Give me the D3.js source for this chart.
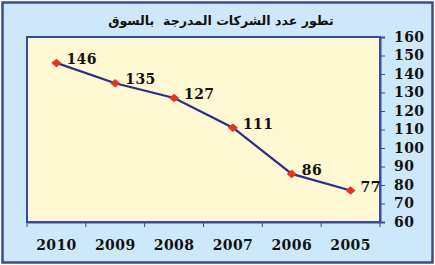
<!DOCTYPE html>
<html>
<head>
<meta charset="utf-8">
<script src="https://cdn.jsdelivr.net/npm/d3@7"></script>
<style>
  html, body { margin: 0; padding: 0; background: #ffffff; }
</style>
</head>
<body>
<div id="chart"></div>
<script>
// Data
const years = ["2010", "2009", "2008", "2007", "2006", "2005"];
const companies = [146, 135, 127, 111, 86, 77];
const yTicks = [60, 70, 80, 90, 100, 110, 120, 130, 140, 150, 160];
const title = "تطور عدد الشركات المدرجة  بالسوق";

const W = 435, H = 265;
const margin = { top: 37, right: 55, bottom: 43, left: 27 };
const width = W - margin.left - margin.right;
const height = H - margin.top - margin.bottom;

const svg = d3.select("#chart").append("svg")
    .attr("width", W)
    .attr("height", H);

// outer frame
svg.append("rect")
    .attr("x", 2.5).attr("y", 2.5)
    .attr("width", W - 5).attr("height", H - 5)
    .attr("fill", "#cde8f8")
    .attr("stroke", "#3a4a9e")
    .attr("stroke-width", 2.5);

svg.append("text")
    .attr("x", 221)
    .attr("y", 25)
    .attr("text-anchor", "middle")
    .attr("direction", "rtl")
    .style("white-space", "pre")
    .style("font-family", "'DejaVu Sans', sans-serif")
    .style("font-weight", "bold")
    .style("font-size", "12.6px")
    .style("fill", "#111")
    .text(title);

const g = svg.append("g")
    .attr("transform", `translate(${margin.left},${margin.top})`);

const x = d3.scaleBand().domain(years).range([0, width]);
const y = d3.scaleLinear().domain([60, 160]).range([height, 0]);

// plot background
g.append("rect")
    .attr("width", width).attr("height", height)
    .attr("fill", "#fff8d2")
    .attr("stroke", "#3a4a9e")
    .attr("stroke-width", 2);

const fontStyle = sel => sel
    .style("font-family", "'DejaVu Serif', serif")
    .style("font-weight", "bold")
    .style("font-size", "14px")
    .style("letter-spacing", "0.4px")
    .style("fill", "#111");

// y axis on the right
const yAxis = g.append("g")
    .attr("transform", `translate(${width},0)`)
    .call(d3.axisRight(y).tickValues(yTicks).tickSize(5).tickPadding(9));
yAxis.select(".domain").attr("stroke", "#3a4a9e").attr("stroke-width", 2);
yAxis.selectAll(".tick line").attr("stroke", "#3a4a9e");
yAxis.selectAll("text").call(fontStyle);

// x axis with ticks at category boundaries
const xAxis = g.append("g")
    .attr("transform", `translate(0,${height})`)
    .call(d3.axisBottom(x).tickSize(0).tickPadding(18));
xAxis.select(".domain").attr("stroke", "#3a4a9e").attr("stroke-width", 2);
xAxis.selectAll("text").call(fontStyle);
xAxis.selectAll(".bound")
    .data(years.slice(1))
    .enter().append("line")
    .attr("class", "bound")
    .attr("x1", d => x(d)).attr("x2", d => x(d))
    .attr("y1", 0).attr("y2", 5)
    .attr("stroke", "#3a4a9e");
xAxis.append("line")
    .attr("x1", 0).attr("x2", 0).attr("y1", 0).attr("y2", 5)
    .attr("stroke", "#3a4a9e");
xAxis.append("line")
    .attr("x1", width).attr("x2", width).attr("y1", 0).attr("y2", 5)
    .attr("stroke", "#3a4a9e");

const pts = years.map((yr, i) => ({ year: yr, value: companies[i] }));
const cx = d => x(d.year) + x.bandwidth() / 2;

g.append("path")
    .datum(pts)
    .attr("fill", "none")
    .attr("stroke", "#2b2f8c")
    .attr("stroke-width", 2.2)
    .attr("d", d3.line().x(cx).y(d => y(d.value)));

g.selectAll(".pt")
    .data(pts)
    .enter().append("path")
    .attr("class", "pt")
    .attr("transform", d => `translate(${cx(d)},${y(d.value)}) scale(1,0.85)`)
    .attr("d", d3.symbol(d3.symbolDiamond2, 64))
    .attr("fill", "#e8321e");

g.selectAll(".lbl")
    .data(pts)
    .enter().append("text")
    .attr("class", "lbl")
    .attr("x", d => cx(d) + 10)
    .attr("y", d => y(d.value) + 1)
    .call(fontStyle)
    .text(d => d.value);
</script>
</body>
</html>
